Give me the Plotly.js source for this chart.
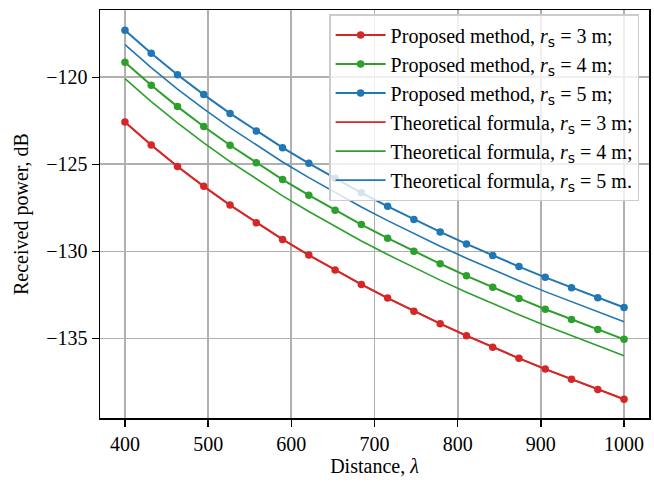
<!DOCTYPE html>
<html>
<head>
<meta charset="utf-8">
<script src="https://cdn.plot.ly/plotly-3.0.1.min.js"></script>
<style>body{margin:0;padding:0;background:#fff;} #chart{width:654px;height:485px;}</style>
</head>
<body>
<div id="chart"></div>
<script>
// Distance values (lambda)
const distance = [400.0, 431.58, 463.16, 494.74, 526.32, 557.89, 589.47, 621.05, 652.63, 684.21,
                  715.79, 747.37, 778.95, 810.53, 842.11, 873.68, 905.26, 936.84, 968.42, 1000.0];

// Proposed method, r_s = 3, 4, 5 m
const proposed3 = [-122.57, -123.89, -125.12, -126.26, -127.34, -128.35, -129.31, -130.21, -131.07, -131.90,
                   -132.68, -133.43, -134.15, -134.84, -135.50, -136.14, -136.76, -137.35, -137.93, -138.49];
const proposed4 = [-119.13, -120.45, -121.68, -122.82, -123.90, -124.91, -125.87, -126.77, -127.63, -128.46,
                   -129.24, -129.99, -130.71, -131.40, -132.06, -132.70, -133.32, -133.91, -134.49, -135.05];
const proposed5 = [-117.30, -118.62, -119.85, -120.99, -122.07, -123.08, -124.04, -124.94, -125.80, -126.63,
                   -127.41, -128.16, -128.88, -129.57, -130.23, -130.87, -131.49, -132.08, -132.66, -133.22];

// Theoretical formula, r_s = 3, 4, 5 m
const theory3 = [-122.57, -123.89, -125.12, -126.26, -127.34, -128.35, -129.31, -130.21, -131.07, -131.90,
                 -132.68, -133.43, -134.15, -134.84, -135.50, -136.14, -136.76, -137.35, -137.93, -138.49];
const theory4 = [-120.07, -121.39, -122.62, -123.76, -124.84, -125.85, -126.81, -127.71, -128.57, -129.40,
                 -130.18, -130.93, -131.65, -132.34, -133.00, -133.64, -134.26, -134.85, -135.43, -135.99];
const theory5 = [-118.12, -119.44, -120.67, -121.81, -122.89, -123.90, -124.86, -125.76, -126.62, -127.45,
                 -128.23, -128.98, -129.70, -130.39, -131.05, -131.69, -132.31, -132.90, -133.48, -134.04];

const xTicks = [400, 500, 600, 700, 800, 900, 1000];
const yTicks = [-120, -125, -130, -135];

const RED = '#d62728', GREEN = '#2ca02c', BLUE = '#1f77b4';
const FONT = 'Liberation Serif, Times New Roman, serif';
const SUB = '<sub><span style="font-family:DejaVu Sans, sans-serif">s</span></sub>';

function prop(y, color, r, end) {
  return {x: distance, y: y, type: 'scatter', mode: 'lines+markers',
    line: {color: color, width: 2}, marker: {color: color, size: 7.5},
    name: 'Proposed method, <i>r</i>' + SUB + ' = ' + r + ' m' + end};
}
function theo(y, color, r, end) {
  return {x: distance, y: y, type: 'scatter', mode: 'lines',
    line: {color: color, width: 1.6},
    name: 'Theoretical formula, <i>r</i>' + SUB + ' = ' + r + ' m' + end};
}

const data = [
  prop(proposed3, RED, 3, ';'),
  prop(proposed4, GREEN, 4, ';'),
  prop(proposed5, BLUE, 5, ';'),
  theo(theory3, RED, 3, ';'),
  theo(theory4, GREEN, 4, ';'),
  theo(theory5, BLUE, 5, '.')
];

const axisCommon = {
  showline: true, linecolor: '#000', linewidth: 1.5, mirror: true,
  ticks: 'outside', ticklen: 7, tickwidth: 1.5, tickcolor: '#000',
  showgrid: true, gridcolor: '#b0b0b0', gridwidth: 1.8, zeroline: false,
  tickfont: {family: FONT, size: 20, color: '#000'}
};

const layout = {
  width: 654, height: 485,
  margin: {l: 100, r: 5, t: 10, b: 67},
  paper_bgcolor: '#fff', plot_bgcolor: '#fff',
  font: {family: FONT, color: '#000'},
  xaxis: Object.assign({}, axisCommon, {
    range: [370, 1030], tickvals: xTicks, ticktext: xTicks.map(String),
    title: {text: 'Distance, <i>λ</i>', font: {family: FONT, size: 20, color: '#000'}, standoff: 4}
  }),
  yaxis: Object.assign({}, axisCommon, {
    range: [-139.57, -116.13], tickvals: yTicks,
    title: {text: 'Received power, dB', font: {family: FONT, size: 20, color: '#000'}, standoff: 12}
  }),
  showlegend: true,
  legend: {
    x: 0.982, xanchor: 'right', y: 0.99, yanchor: 'top',
    bgcolor: 'rgba(255,255,255,0.8)', bordercolor: '#cccccc', borderwidth: 1.5,
    font: {family: FONT, size: 20, color: '#000'},
    itemwidth: 50, tracegroupgap: 0
  }
};

Plotly.newPlot('chart', data, layout, {displayModeBar: false, staticPlot: true});
</script>
</body>
</html>
